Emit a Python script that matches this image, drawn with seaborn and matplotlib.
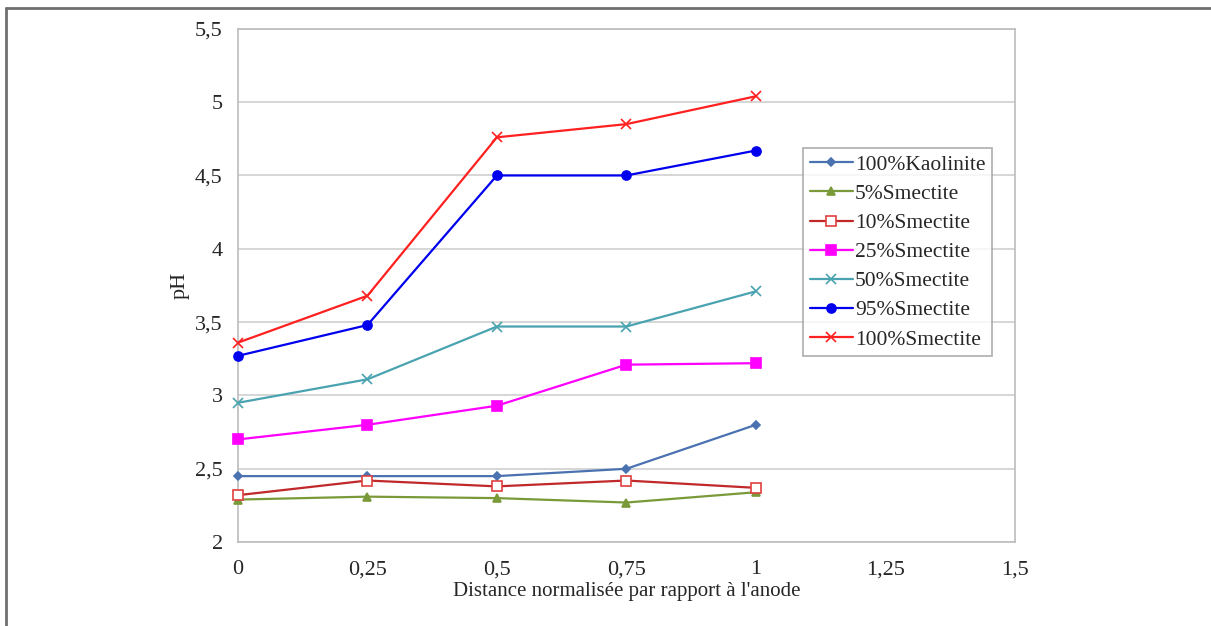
import matplotlib
matplotlib.use('Agg')
import matplotlib.pyplot as plt
from matplotlib.lines import Line2D
import seaborn as sns
import pandas as pd

# Data
distance = [0, 0.25, 0.5, 0.75, 1]
kaolinite_100 = [2.45, 2.45, 2.45, 2.50, 2.80]
smectite_5 = [2.29, 2.31, 2.30, 2.27, 2.34]
smectite_10 = [2.32, 2.42, 2.38, 2.42, 2.37]
smectite_25 = [2.70, 2.80, 2.93, 3.21, 3.22]
smectite_50 = [2.95, 3.11, 3.47, 3.47, 3.71]
smectite_95 = [3.27, 3.48, 4.50, 4.50, 4.67]
smectite_100 = [3.36, 3.68, 4.76, 4.85, 5.04]

labels = ['100%Kaolinite', '5%Smectite', '10%Smectite', '25%Smectite',
          '50%Smectite', '95%Smectite', '100%Smectite']
series = [kaolinite_100, smectite_5, smectite_10, smectite_25,
          smectite_50, smectite_95, smectite_100]

xticks = [0, 0.25, 0.5, 0.75, 1, 1.25, 1.5]
xtick_labels = ['0', '0,25', '0,5', '0,75', '1', '1,25', '1,5']
yticks = [2, 2.5, 3, 3.5, 4, 4.5, 5, 5.5]
ytick_labels = ['2', '2,5', '3', '3,5', '4', '4,5', '5', '5,5']

styles = {
    '100%Kaolinite': dict(color='#4a72b0', marker='D', ms=4.5, mfc='#4a72b0'),
    '5%Smectite': dict(color='#7a9a3a', marker='^', ms=5.5, mfc='#7a9a3a'),
    '10%Smectite': dict(color='#c0282a', marker='s', ms=6.5, mfc='white', mec='#e04040'),
    '25%Smectite': dict(color='#ff00ff', marker='s', ms=6.5, mfc='#ff00ff'),
    '50%Smectite': dict(color='#4aa3b0', marker='x', ms=6.5, mfc='#4aa3b0'),
    '95%Smectite': dict(color='#0000ee', marker='o', ms=6.5, mfc='#0000ee'),
    '100%Smectite': dict(color='#ff2020', marker='x', ms=7.5, mfc='#ff2020'),
}

sns.set_style('white')
plt.rcParams['font.family'] = ['Liberation Serif', 'DejaVu Serif']

fig = plt.figure(figsize=(12.11, 6.26), dpi=100)
ax = fig.add_axes([0.1965, 0.134, 0.6415, 0.82])

for name, vals in zip(labels, series):
    df = pd.DataFrame({'x': distance, 'y': vals})
    st = styles[name]
    sns.lineplot(data=df, x='x', y='y', ax=ax, color=st['color'], lw=1.6,
                 marker=st['marker'], markersize=st['ms'],
                 markerfacecolor=st['mfc'],
                 markeredgecolor=st.get('mec', st['color']),
                 markeredgewidth=1.2, label=name, clip_on=False, zorder=3)

ax.set_xlim(0, 1.5)
ax.set_ylim(2, 5.5)
ax.set_xticks(xticks)
ax.set_xticklabels(xtick_labels)
ax.set_yticks(yticks)
ax.set_yticklabels(ytick_labels)
ax.tick_params(labelsize=16, color='#b8b8b8', direction='out', width=1.2)
ax.tick_params(axis='x', length=5, pad=8)
ax.tick_params(axis='y', length=8, pad=3)
ax.yaxis.grid(True, color='#d0d0d0', lw=1.2)
ax.xaxis.grid(False)
for s in ['left', 'bottom', 'top', 'right']:
    ax.spines[s].set_color('#bcbcbc')
    ax.spines[s].set_linewidth(1.2)
ax.set_xlabel("Distance normalisée par rapport à l'anode", fontsize=15, labelpad=2)
ax.set_ylabel('pH', fontsize=16, labelpad=4)

leg = ax.legend(loc='upper left', bbox_to_anchor=(0.727, 0.768), borderaxespad=0,
                fontsize=15.5, frameon=True, fancybox=False, handlelength=2.0,
                handletextpad=0.1, borderpad=0.32, labelspacing=0.42)
leg.get_frame().set_edgecolor('#9a9a9a')
leg.get_frame().set_linewidth(1.2)

# outer frame: top and left edges only
fig.add_artist(Line2D([0.005, 1.0], [0.988, 0.988], transform=fig.transFigure,
                      color='#707070', lw=2))
fig.add_artist(Line2D([0.005, 0.005], [0.0, 0.988], transform=fig.transFigure,
                      color='#707070', lw=2))

fig.savefig('out.png', dpi=100)
